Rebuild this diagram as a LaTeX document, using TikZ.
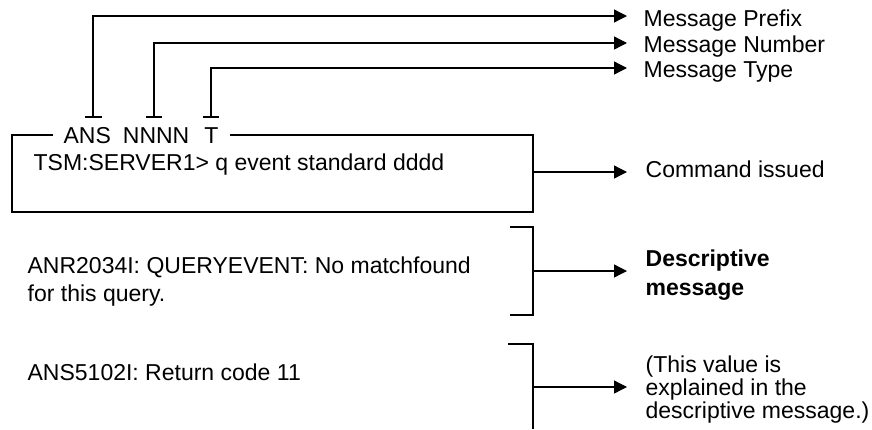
\documentclass[tikz,border=0pt]{standalone}
\usepackage{fontspec}
\setmainfont{Liberation Sans}
\usetikzlibrary{arrows.meta}
\begin{document}
\begin{tikzpicture}[x=1pt,y=-1pt,line width=1.3pt,
  txt/.style={anchor=base west,inner sep=0pt,font=\fontsize{23}{23}\selectfont},
  boldtxt/.style={txt,font=\fontsize{23}{23}\selectfont\bfseries},
  arr/.style={-{Triangle[length=13pt,width=13pt]}},
  tbar/.style={line width=1.3pt}]
\useasboundingbox (0,0) rectangle (872,429);
% labels on the right
\node[txt] (pfx) at (643,26) {Message Prefix};
\node[txt] (num) at (643,52) {Message Number};
\node[txt] (typ) at (643,77) {Message Type};
\node[txt] (cmd) at (645,177) {Command issued};
\node[boldtxt] (desc1) at (645,266) {Descriptive};
\node[boldtxt] (desc2) at (645,295) {message};
\node[txt] (val1) at (645,372) {(This value is};
\node[txt] (val2) at (645,395) {explained in the};
\node[txt] (val3) at (645,418) {descriptive message.)};
% left texts
\node[txt] (hdr) at (63,143) {ANS\hspace{12pt}NNNN\hspace{15pt}T};
\node[txt] (tsm) at (33,170) {TSM:SERVER1> q event standard dddd};
\node[txt] (anr1) at (27,273) {ANR2034I: QUERYEVENT: No matchfound};
\node[txt] (anr2) at (27,301) {for this query.};
\node[txt] (ans) at (27,380) {ANS5102I: Return code 11};
% stems with T-bars
\coordinate (s1) at (93,117);
\coordinate (s2) at (154,117);
\coordinate (s3) at (211,117);
\coordinate (e1) at (627,16);
\coordinate (e2) at (627,43);
\coordinate (e3) at (627,68);
\draw[arr] (s1) |- (e1);
\draw[arr] (s2) |- (e2);
\draw[arr] (s3) |- (e3);
\draw[tbar] ([xshift=-8pt]s1) -- ([xshift=9pt]s1);
\draw[tbar] ([xshift=-8pt]s2) -- ([xshift=8pt]s2);
\draw[tbar] ([xshift=-8pt]s3) -- ([xshift=8pt]s3);
% box with header gap
\draw (53,135) -| (12,212) -| (533,135) -- (230,135);
\coordinate (c1) at (533,172);
\coordinate (c2) at (627,172);
\draw[arr] (c1) -- (c2);
% bracket 1
\draw (510,227) -| (533,315) -- (510,315);
\coordinate (b1) at (533,271);
\coordinate (b1e) at (627,271);
\draw[arr] (b1) -- (b1e);
% bracket 2
\draw (508,344) -| (533,429);
\coordinate (b2) at (533,387);
\coordinate (b2e) at (627,387);
\draw[arr] (b2) -- (b2e);
\end{tikzpicture}
\end{document}
